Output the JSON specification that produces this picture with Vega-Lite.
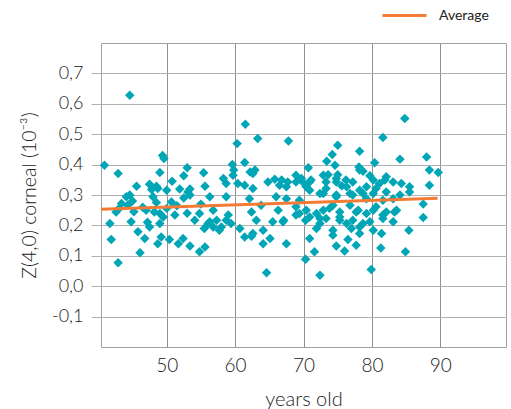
{
  "$schema": "https://vega.github.io/schema/vega-lite/v6.json",
  "width": 405,
  "height": 304,
  "autosize": "none",
  "padding": {"left": 101, "top": 43, "right": 5, "bottom": 62},
  "background": "white",
  "config": {
    "font": "Lato",
    "view": {"stroke": "#a0a0a0", "strokeWidth": 1},
    "axis": {
      "labelFont": "Lato",
      "labelFontSize": 18,
      "labelFontWeight": 300,
      "labelColor": "#222222",
      "labelOverlap": false,
      "titleFont": "Lato",
      "titleFontWeight": 300,
      "titleColor": "#222222",
      "domain": false
    }
  },
  "datasets": {
    "points": [
      {"age": 40.9, "z": 0.398}, {"age": 42.9, "z": 0.371}, {"age": 44.6, "z": 0.628}, {"age": 49.4, "z": 0.43},
      {"age": 49.6, "z": 0.42}, {"age": 49.0, "z": 0.374}, {"age": 53.0, "z": 0.39}, {"age": 52.5, "z": 0.363},
      {"age": 55.4, "z": 0.373}, {"age": 45.6, "z": 0.329}, {"age": 47.5, "z": 0.335}, {"age": 48.5, "z": 0.329},
      {"age": 50.8, "z": 0.345}, {"age": 51.9, "z": 0.32}, {"age": 53.4, "z": 0.32}, {"age": 55.6, "z": 0.329},
      {"age": 47.8, "z": 0.318}, {"age": 48.7, "z": 0.321}, {"age": 50.0, "z": 0.316}, {"age": 53.1, "z": 0.31},
      {"age": 53.4, "z": 0.30}, {"age": 56.3, "z": 0.294}, {"age": 44.6, "z": 0.30}, {"age": 44.1, "z": 0.294},
      {"age": 48.0, "z": 0.294}, {"age": 43.4, "z": 0.272}, {"age": 42.6, "z": 0.244}, {"age": 44.3, "z": 0.266},
      {"age": 47.0, "z": 0.25}, {"age": 48.2, "z": 0.244}, {"age": 49.0, "z": 0.239}, {"age": 50.0, "z": 0.256},
      {"age": 50.7, "z": 0.277}, {"age": 51.2, "z": 0.234}, {"age": 44.8, "z": 0.212}, {"age": 41.7, "z": 0.206},
      {"age": 49.0, "z": 0.206}, {"age": 49.5, "z": 0.228}, {"age": 54.1, "z": 0.217}, {"age": 56.3, "z": 0.212},
      {"age": 54.8, "z": 0.239}, {"age": 45.8, "z": 0.179}, {"age": 47.5, "z": 0.195}, {"age": 41.9, "z": 0.154},
      {"age": 46.8, "z": 0.157}, {"age": 49.2, "z": 0.162}, {"age": 48.7, "z": 0.14}, {"age": 50.4, "z": 0.154},
      {"age": 51.7, "z": 0.14}, {"age": 52.4, "z": 0.157}, {"age": 53.4, "z": 0.132}, {"age": 54.8, "z": 0.113},
      {"age": 55.6, "z": 0.129}, {"age": 46.1, "z": 0.11}, {"age": 42.9, "z": 0.077}, {"age": 43.0, "z": 0.255},
      {"age": 45.0, "z": 0.28}, {"age": 46.5, "z": 0.26}, {"age": 48.5, "z": 0.275}, {"age": 51.5, "z": 0.265},
      {"age": 52.5, "z": 0.29}, {"age": 55.0, "z": 0.27}, {"age": 45.2, "z": 0.245}, {"age": 47.2, "z": 0.21},
      {"age": 53.0, "z": 0.24}, {"age": 55.5, "z": 0.19}, {"age": 56.0, "z": 0.205},
      {"age": 61.5, "z": 0.533}, {"age": 63.3, "z": 0.486}, {"age": 67.8, "z": 0.478}, {"age": 60.3, "z": 0.469},
      {"age": 59.6, "z": 0.40}, {"age": 61.4, "z": 0.407}, {"age": 62.2, "z": 0.376}, {"age": 62.6, "z": 0.371},
      {"age": 59.8, "z": 0.382}, {"age": 58.3, "z": 0.354}, {"age": 58.7, "z": 0.338}, {"age": 60.4, "z": 0.338},
      {"age": 61.4, "z": 0.332}, {"age": 62.6, "z": 0.321}, {"age": 65.8, "z": 0.352}, {"age": 66.8, "z": 0.349},
      {"age": 67.7, "z": 0.343}, {"age": 68.9, "z": 0.365}, {"age": 69.7, "z": 0.354}, {"age": 70.7, "z": 0.39},
      {"age": 70.9, "z": 0.343}, {"age": 72.9, "z": 0.365}, {"age": 64.8, "z": 0.343}, {"age": 66.5, "z": 0.332},
      {"age": 67.5, "z": 0.327}, {"age": 68.9, "z": 0.343}, {"age": 70.4, "z": 0.327}, {"age": 72.4, "z": 0.305},
      {"age": 58.7, "z": 0.294}, {"age": 62.1, "z": 0.288}, {"age": 63.8, "z": 0.266}, {"age": 66.0, "z": 0.294},
      {"age": 67.5, "z": 0.288}, {"age": 68.9, "z": 0.261}, {"age": 69.4, "z": 0.239}, {"age": 70.4, "z": 0.25},
      {"age": 70.9, "z": 0.228}, {"age": 72.4, "z": 0.223}, {"age": 56.8, "z": 0.25}, {"age": 57.3, "z": 0.217},
      {"age": 58.0, "z": 0.195}, {"age": 59.0, "z": 0.234}, {"age": 59.4, "z": 0.206}, {"age": 60.7, "z": 0.19},
      {"age": 62.4, "z": 0.244}, {"age": 66.3, "z": 0.25}, {"age": 65.5, "z": 0.212}, {"age": 67.0, "z": 0.212},
      {"age": 62.4, "z": 0.164}, {"age": 64.1, "z": 0.184}, {"age": 64.1, "z": 0.14}, {"age": 65.1, "z": 0.157},
      {"age": 67.5, "z": 0.14}, {"age": 70.9, "z": 0.157}, {"age": 71.6, "z": 0.113}, {"age": 70.3, "z": 0.089},
      {"age": 64.6, "z": 0.044}, {"age": 72.4, "z": 0.036}, {"age": 56.8, "z": 0.195}, {"age": 57.7, "z": 0.184},
      {"age": 59.7, "z": 0.365}, {"age": 58.7, "z": 0.217}, {"age": 61.4, "z": 0.162}, {"age": 62.9, "z": 0.382},
      {"age": 69.9, "z": 0.343}, {"age": 71.1, "z": 0.349}, {"age": 70.9, "z": 0.316}, {"age": 69.4, "z": 0.283},
      {"age": 68.9, "z": 0.234}, {"age": 71.9, "z": 0.239}, {"age": 67.1, "z": 0.217}, {"age": 70.3, "z": 0.217},
      {"age": 72.4, "z": 0.206}, {"age": 71.9, "z": 0.19}, {"age": 63.1, "z": 0.217}, {"age": 62.6, "z": 0.173},
      {"age": 84.8, "z": 0.552}, {"age": 81.6, "z": 0.489}, {"age": 75.0, "z": 0.464}, {"age": 74.2, "z": 0.433},
      {"age": 78.2, "z": 0.444}, {"age": 84.1, "z": 0.418}, {"age": 88.0, "z": 0.425}, {"age": 73.4, "z": 0.411},
      {"age": 74.6, "z": 0.398}, {"age": 80.4, "z": 0.406}, {"age": 78.1, "z": 0.392}, {"age": 78.7, "z": 0.378},
      {"age": 88.4, "z": 0.382}, {"age": 89.7, "z": 0.374}, {"age": 73.6, "z": 0.367}, {"age": 75.0, "z": 0.367},
      {"age": 73.3, "z": 0.343}, {"age": 74.8, "z": 0.343}, {"age": 76.2, "z": 0.349}, {"age": 77.2, "z": 0.343},
      {"age": 79.7, "z": 0.363}, {"age": 80.2, "z": 0.349}, {"age": 81.9, "z": 0.349}, {"age": 83.1, "z": 0.343},
      {"age": 84.3, "z": 0.338}, {"age": 85.5, "z": 0.327}, {"age": 88.4, "z": 0.332}, {"age": 75.6, "z": 0.33},
      {"age": 79.2, "z": 0.327}, {"age": 81.1, "z": 0.338}, {"age": 72.9, "z": 0.305}, {"age": 74.8, "z": 0.30},
      {"age": 76.8, "z": 0.305}, {"age": 78.7, "z": 0.305}, {"age": 80.2, "z": 0.305}, {"age": 82.1, "z": 0.31},
      {"age": 84.1, "z": 0.30}, {"age": 85.5, "z": 0.31}, {"age": 87.5, "z": 0.27}, {"age": 72.9, "z": 0.25},
      {"age": 74.3, "z": 0.266}, {"age": 75.3, "z": 0.244}, {"age": 76.8, "z": 0.266}, {"age": 78.0, "z": 0.25},
      {"age": 79.2, "z": 0.239}, {"age": 80.6, "z": 0.261}, {"age": 82.1, "z": 0.244}, {"age": 83.6, "z": 0.25},
      {"age": 87.5, "z": 0.226}, {"age": 73.3, "z": 0.223}, {"age": 75.3, "z": 0.217}, {"age": 77.2, "z": 0.217},
      {"age": 78.7, "z": 0.206}, {"age": 81.6, "z": 0.223}, {"age": 83.1, "z": 0.212}, {"age": 74.3, "z": 0.168},
      {"age": 76.5, "z": 0.154}, {"age": 78.2, "z": 0.173}, {"age": 80.2, "z": 0.184}, {"age": 81.4, "z": 0.173},
      {"age": 85.4, "z": 0.184}, {"age": 74.8, "z": 0.132}, {"age": 76.0, "z": 0.116}, {"age": 77.7, "z": 0.135},
      {"age": 81.3, "z": 0.126}, {"age": 84.9, "z": 0.113}, {"age": 79.9, "z": 0.055}, {"age": 74.8, "z": 0.354},
      {"age": 78.2, "z": 0.382}, {"age": 82.1, "z": 0.36}, {"age": 73.3, "z": 0.321}, {"age": 76.3, "z": 0.327},
      {"age": 78.2, "z": 0.316}, {"age": 80.6, "z": 0.321}, {"age": 74.8, "z": 0.294}, {"age": 77.2, "z": 0.30},
      {"age": 79.2, "z": 0.288}, {"age": 81.6, "z": 0.283}, {"age": 83.1, "z": 0.288}, {"age": 73.8, "z": 0.256},
      {"age": 75.3, "z": 0.228}, {"age": 77.7, "z": 0.244}, {"age": 80.2, "z": 0.25}, {"age": 81.6, "z": 0.234},
      {"age": 83.3, "z": 0.244}, {"age": 76.3, "z": 0.206}, {"age": 78.2, "z": 0.195}, {"age": 79.7, "z": 0.212},
      {"age": 74.3, "z": 0.184}, {"age": 77.0, "z": 0.19}
    ],
    "average": [
      {"age": 40.4, "z": 0.253, "series": "Average"},
      {"age": 89.6, "z": 0.289, "series": "Average"}
    ]
  },
  "layer": [
    {
      "data": {"name": "points"},
      "mark": {"type": "point", "shape": "diamond", "filled": true, "size": 90, "opacity": 1, "color": "#00a6b6"},
      "encoding": {
        "x": {
          "field": "age", "type": "quantitative",
          "scale": {"domain": [40.4, 99.6], "nice": false, "zero": false},
          "axis": {
            "values": [50, 60, 70, 80, 90],
            "tickCount": 20,
            "ticks": false,
            "gridColor": "#8f8f8f",
            "labelFontSize": 19,
            "labelPadding": 9,
            "title": "years old",
            "titleFontSize": 20,
            "titlePadding": 14
          }
        },
        "y": {
          "field": "z", "type": "quantitative",
          "scale": {"domain": [-0.2, 0.8], "nice": false, "zero": false},
          "axis": {
            "values": [-0.1, 0, 0.1, 0.2, 0.3, 0.4, 0.5, 0.6, 0.7],
            "tickCount": 20,
            "labelExpr": "replace(replace(format(datum.value, '.1f'), '.', ','), '\u2212', '-')",
            "tickSize": 10,
            "tickColor": "#b0b0b0",
            "gridColor": "#b0b0b0",
            "labelPadding": 8,
            "title": "Z(4,0) corneal (10⁻³)",
            "titleFontSize": 19.5,
            "titlePadding": 12
          }
        }
      }
    },
    {
      "data": {"name": "average"},
      "mark": {"type": "line", "strokeWidth": 3},
      "encoding": {
        "x": {"field": "age", "type": "quantitative"},
        "y": {"field": "z", "type": "quantitative"},
        "color": {
          "field": "series", "type": "nominal",
          "scale": {"range": ["#f47b35"]},
          "legend": {
            "title": null,
            "orient": "none",
            "legendX": 280,
            "legendY": -51,
            "symbolType": "stroke",
            "symbolSize": 1936,
            "symbolStrokeWidth": 3,
            "labelFont": "Lato",
            "labelFontSize": 14,
            "labelColor": "#222222",
            "labelOffset": 11
          }
        }
      }
    }
  ]
}
